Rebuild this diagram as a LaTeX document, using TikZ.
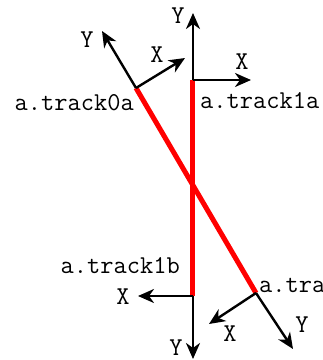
\documentclass[tikz,border=0pt]{standalone}
\usetikzlibrary{arrows.meta}
\begin{document}
\begin{tikzpicture}[x=1pt,y=-1pt,
  axis/.style={line width=2.4pt,-{Stealth[length=16pt,width=14pt,inset=5pt]}},
  track/.style={line width=5pt,red},
  lbl/.style={font=\fontsize{25.7}{30}\selectfont\ttfamily,inner sep=0pt}]
\useasboundingbox (0,0) rectangle (323,360);
% origins
\coordinate (t0a) at (136,88);
\coordinate (t1a) at (193,80);
\coordinate (t1b) at (193,296);
\coordinate (t0b) at (256,293);
% axis ends
\coordinate (t0aX) at (185,58);
\coordinate (t0aY) at (102,31);
\coordinate (t1aX) at (251,80);
\coordinate (t1aY) at (193,13);
\coordinate (t1bX) at (138,296);
\coordinate (t1bY) at (193,359);
\coordinate (t0bX) at (209,324);
\coordinate (t0bY) at (293,349);
% tracks
\draw[track] (t0a) -- (t0b);
\draw[track] (t1a) -- (t1b);
% axes
\draw[axis] (t0a) -- (t0aX);
\draw[axis] (t0a) -- (t0aY);
\draw[axis] (t1a) -- (t1aX);
\draw[axis] (t1a) -- (t1aY);
\draw[axis] (t1b) -- (t1bX);
\draw[axis] (t1b) -- (t1bY);
\draw[axis] (t0b) -- (t0bX);
\draw[axis] (t0b) -- (t0bY);
% labels
\node[lbl,anchor=base east] (l0a) at (134,110) {a.track0a};
\node[lbl,anchor=base west] (l1a) at (200,108) {a.track1a};
\node[lbl,anchor=base east] (l1b) at (180,273) {a.track1b};
\node[lbl,anchor=base west] (l0b) at (259,292) {a.track0b};
\node[lbl] (x0a) at (157,55) {X};
\node[lbl] (y0a) at (87,40) {Y};
\node[lbl] (x1a) at (242,62) {X};
\node[lbl] (y1a) at (178,16) {Y};
\node[lbl] (x1b) at (123,297) {X};
\node[lbl] (y1b) at (176,348) {Y};
\node[lbl] (x0b) at (230,334) {X};
\node[lbl] (y0b) at (302,325) {Y};
\end{tikzpicture}
\end{document}
